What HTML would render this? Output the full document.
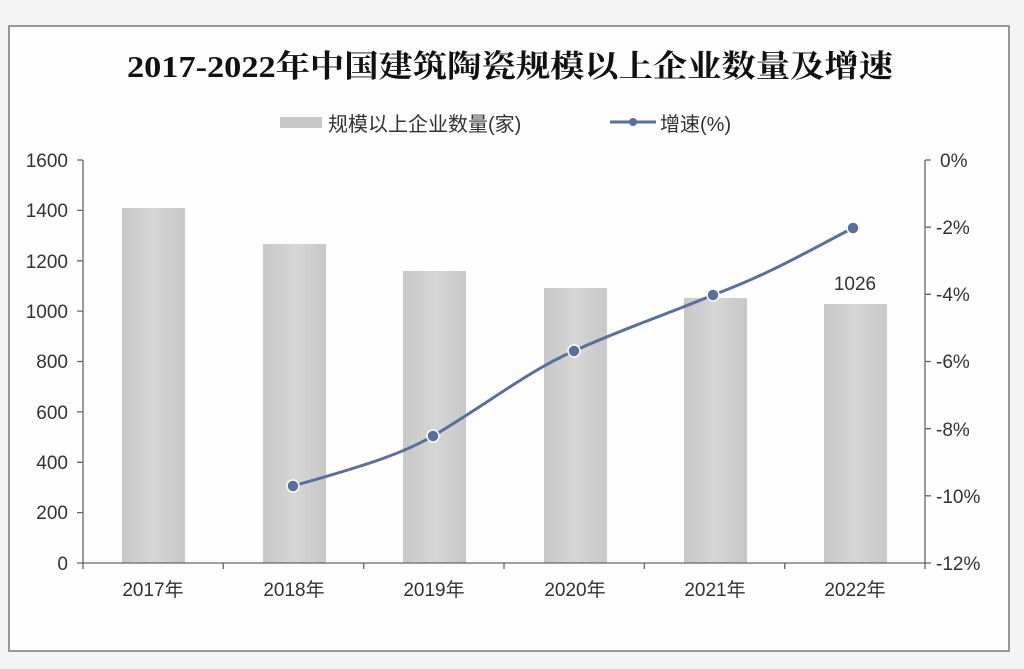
<!DOCTYPE html>
<html><head><meta charset="utf-8"><style>
html,body{margin:0;padding:0;background:#f4f4f4;}
svg{display:block}
text{font-family:"Liberation Sans","Noto Sans CJK SC",sans-serif;fill:#333}
</style></head><body>
<svg width="1024" height="669" viewBox="0 0 1024 669">
<defs><linearGradient id="g" x1="0" x2="1"><stop offset="0" stop-color="#c8c8c8"/><stop offset="0.5" stop-color="#d6d6d6"/><stop offset="1" stop-color="#c8c8c8"/></linearGradient></defs>
<rect x="9" y="26" width="1000" height="625" fill="#fdfdfd" stroke="#777" stroke-width="1.5"/>
<text x="127" y="77" textLength="766" lengthAdjust="spacingAndGlyphs" font-size="31" font-weight="bold" style="font-family:'Liberation Serif','Noto Serif CJK SC',serif;fill:#111">2017-2022年中国建筑陶瓷规模以上企业数量及增速</text>
<rect x="280" y="117" width="42" height="11" fill="#c8c8c8"/>
<text x="328" y="131" font-size="20">规模以上企业数量(家)</text>
<line x1="610" y1="122" x2="656" y2="122" stroke="#5a6f9a" stroke-width="3"/>
<circle cx="633" cy="122" r="4" fill="#5a6f9a"/>
<text x="660" y="131" font-size="20">增速(%)</text>
<g fill="url(#g)">
<rect x="122" y="208" width="63" height="355"/>
<rect x="263" y="244" width="63" height="319"/>
<rect x="403" y="271" width="63" height="292"/>
<rect x="544" y="288" width="63" height="275"/>
<rect x="684" y="298" width="63" height="265"/>
<rect x="824" y="304" width="63" height="259"/>
</g>
<g stroke="#666" stroke-width="1.3" fill="none">
<line x1="83" y1="160" x2="83" y2="563"/><line x1="925" y1="160" x2="925" y2="563"/>
<line x1="77" y1="563" x2="931" y2="563"/>
<path d="M77 160H83M77 210.4H83M77 260.8H83M77 311.1H83M77 361.5H83M77 411.9H83M77 462.3H83M77 512.6H83"/>
<path d="M925 160H931M925 227.2H931M925 294.3H931M925 361.5H931M925 428.7H931M925 495.8H931"/>
<path d="M83 563V569M223.3 563V569M363.7 563V569M504 563V569M644.3 563V569M784.7 563V569M925 563V569"/>
</g>
<g font-size="19" text-anchor="end">
<text x="68" y="167">1600</text><text x="68" y="217">1400</text><text x="68" y="268">1200</text><text x="68" y="318">1000</text><text x="68" y="368">800</text><text x="68" y="419">600</text><text x="68" y="469">400</text><text x="68" y="519">200</text><text x="68" y="570">0</text>
</g>
<g font-size="19">
<text x="940" y="167">0%</text><text x="936" y="234">-2%</text><text x="936" y="301">-4%</text><text x="936" y="368">-6%</text><text x="936" y="436">-8%</text><text x="936" y="503">-10%</text><text x="936" y="570">-12%</text>
</g>
<g font-size="19" text-anchor="middle">
<text x="153" y="596">2017年</text><text x="294" y="596">2018年</text><text x="434" y="596">2019年</text><text x="575" y="596">2020年</text><text x="715" y="596">2021年</text><text x="855" y="596">2022年</text>
<text x="855" y="290">1026</text>
</g>
<path d="M293 486 C360 467,400 455,433 436 C490 402,530 370,574 351 C620 330,665 315,713 295 C770 274,810 250,853 228" fill="none" stroke="#5a6f9a" stroke-width="3"/>
<g fill="#5a6f9a" stroke="#fff" stroke-width="1.5">
<circle cx="293" cy="486" r="6"/><circle cx="433" cy="436" r="6"/><circle cx="574" cy="351" r="6"/><circle cx="713" cy="295" r="6"/><circle cx="853" cy="228" r="6"/>
</g>
</svg>
</body></html>
